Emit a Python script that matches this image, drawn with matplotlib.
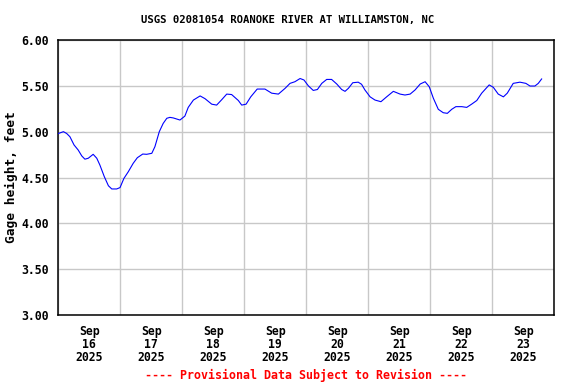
import numpy as np
import pandas as pd
import matplotlib
matplotlib.use("Agg")
import matplotlib.pyplot as plt
import matplotlib.dates as mdates

# hours since 2025-09-16 00:00 and gage height (ft)
hours = [0, 2, 3.25, 4.5, 6.1, 7.7, 9.1, 10.3, 11.6, 13.5, 14.9, 16.1, 17.8,
         19.4, 20.7, 22.6, 23.9, 25.4, 27.1, 29.0, 30.6, 32.7, 34.2, 36.2,
         37.4, 39.1, 40.6, 42.0, 43.2, 44.5, 47.1, 49.0, 50.3, 52.3, 54.9,
         56.8, 59.4, 61.3, 63.3, 65.2, 67.1, 69.7, 71.0, 72.7, 74.5, 77.0,
         80.0, 82.6, 85.2, 87.8, 89.7, 91.6, 93.6, 95.1, 96.8, 98.7, 100.3,
         102.0, 103.9, 105.8, 107.8, 109.7, 111.0, 112.3, 114.0, 116.1, 117.4,
         118.7, 120.7, 122.6, 124.9, 127.1, 129.7, 132.3, 134.2, 136.2, 138.1,
         140.1, 142.0, 143.6, 145.2, 147.1, 149.0, 150.6, 152.3, 153.9, 156.2,
         158.1, 160.0, 162.0, 163.9, 165.6, 166.8, 168.4, 170.3, 172.3, 173.8,
         176.1, 178.7, 181.0, 182.6, 184.5, 185.8, 187.1]
gage = [4.98, 5.00, 4.98, 4.945, 4.855, 4.80, 4.735, 4.70, 4.71, 4.753, 4.71,
        4.636, 4.51, 4.41, 4.375, 4.375, 4.39, 4.49, 4.563, 4.655, 4.716,
        4.756, 4.753, 4.764, 4.836, 5.00, 5.09, 5.146, 5.156, 5.15, 5.127,
        5.17, 5.265, 5.345, 5.39, 5.36, 5.30, 5.29, 5.35, 5.41, 5.405, 5.34,
        5.29, 5.30, 5.38, 5.465, 5.465, 5.42, 5.41, 5.473, 5.527, 5.545, 5.58,
        5.564, 5.50, 5.45, 5.46, 5.527, 5.57, 5.57, 5.52, 5.46, 5.44, 5.473,
        5.534, 5.54, 5.517, 5.455, 5.38, 5.345, 5.327, 5.38, 5.44, 5.41, 5.40,
        5.41, 5.455, 5.52, 5.545, 5.49, 5.364, 5.244, 5.207, 5.20, 5.244,
        5.273, 5.273, 5.265, 5.30, 5.34, 5.42, 5.473, 5.51, 5.484, 5.41, 5.38,
        5.42, 5.527, 5.54, 5.527, 5.498, 5.498, 5.527, 5.575]

start = pd.Timestamp("2025-09-16 00:00")
days = pd.date_range("2025-09-16", "2025-09-24", freq="D")
y_ticks = [3.0, 3.5, 4.0, 4.5, 5.0, 5.5, 6.0]

times = start + pd.to_timedelta(hours, unit="h")

plt.rcParams["font.family"] = "DejaVu Sans Mono"
plt.rcParams["font.weight"] = "bold"

fig = plt.figure(figsize=(5.76, 3.84), dpi=100)
ax = fig.add_axes([0.1012, 0.1797, 0.8611, 0.7161])

ax.plot(times, gage, color="#0000ff", linewidth=0.8, zorder=3)

ax.set_xlim(days[0], days[-1])
ax.set_ylim(3.0, 6.0)
ax.set_yticks(y_ticks)
ax.set_yticklabels([f"{v:.2f}" for v in y_ticks], fontsize=8.3, fontweight="bold")

# gridlines at midnight, labels at noon
ax.set_xticks(days)
ax.set_xticklabels([])
noons = days[:-1] + pd.Timedelta(hours=12)
ax.set_xticks(noons, minor=True)
ax.set_xticklabels([f"Sep\n{d.day}\n{d.year}" for d in noons], minor=True,
                   fontsize=8.3, fontweight="bold", linespacing=1.0)
ax.tick_params(axis="both", which="both", length=0)
ax.tick_params(axis="x", which="minor", pad=7)
ax.tick_params(axis="y", pad=7)

ax.grid(True, which="major", color="#c8c8c8", linewidth=1.0, zorder=1)
for s in ax.spines.values():
    s.set_linewidth(1.1)
    s.set_color("black")

ax.set_ylabel("Gage height, feet", fontsize=9.3, fontweight="bold", labelpad=2)
fig.text(0.5, 0.948, "USGS 02081054 ROANOKE RIVER AT WILLIAMSTON, NC",
         ha="center", va="center", fontsize=7.7, fontweight="bold")
fig.text(0.532, 0.023, "---- Provisional Data Subject to Revision ----",
         ha="center", va="center", fontsize=8.4, fontweight="bold", color="#ff0000")

fig.savefig("out.png", dpi=100)
